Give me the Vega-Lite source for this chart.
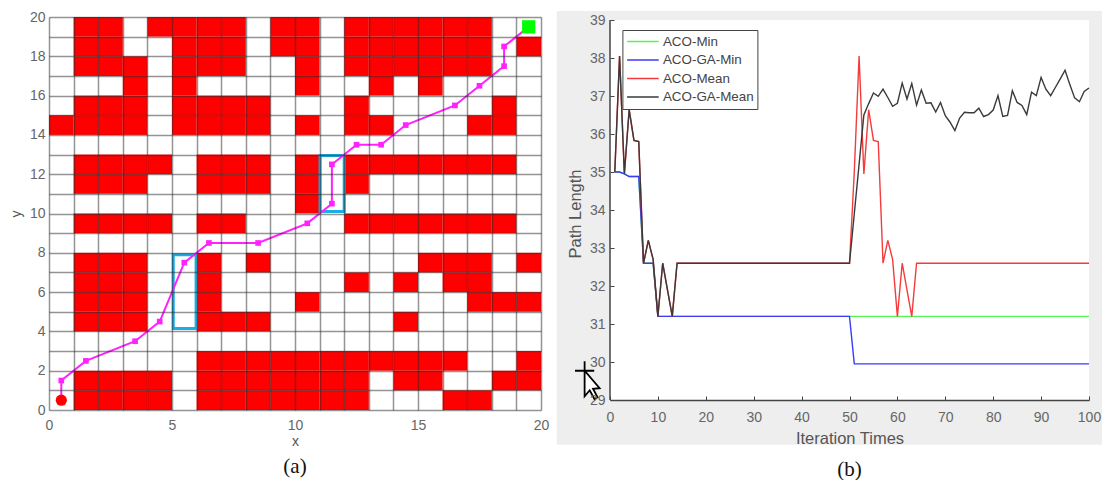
{"$schema":"https://vega.github.io/schema/vega-lite/v6.json","background":"white","padding":{"left":9,"top":10,"right":0,"bottom":0},"spacing":7,"resolve":{"legend":{"color":"independent"}},"config":{"view":{"stroke":null},"font":"Liberation Sans"},
"datasets":{
"cells":[
{"x":1,"x2":2,"y":19,"y2":20},{"x":2,"x2":3,"y":19,"y2":20},{"x":4,"x2":5,"y":19,"y2":20},{"x":5,"x2":6,"y":19,"y2":20},{"x":6,"x2":7,"y":19,"y2":20},{"x":7,"x2":8,"y":19,"y2":20},{"x":9,"x2":10,"y":19,"y2":20},{"x":10,"x2":11,"y":19,"y2":20},{"x":12,"x2":13,"y":19,"y2":20},{"x":13,"x2":14,"y":19,"y2":20},{"x":14,"x2":15,"y":19,"y2":20},{"x":15,"x2":16,"y":19,"y2":20},{"x":16,"x2":17,"y":19,"y2":20},{"x":17,"x2":18,"y":19,"y2":20},
{"x":1,"x2":2,"y":18,"y2":19},{"x":2,"x2":3,"y":18,"y2":19},{"x":5,"x2":6,"y":18,"y2":19},{"x":6,"x2":7,"y":18,"y2":19},{"x":7,"x2":8,"y":18,"y2":19},{"x":9,"x2":10,"y":18,"y2":19},{"x":10,"x2":11,"y":18,"y2":19},{"x":12,"x2":13,"y":18,"y2":19},{"x":13,"x2":14,"y":18,"y2":19},{"x":14,"x2":15,"y":18,"y2":19},{"x":15,"x2":16,"y":18,"y2":19},{"x":16,"x2":17,"y":18,"y2":19},{"x":17,"x2":18,"y":18,"y2":19},{"x":19,"x2":20,"y":18,"y2":19},
{"x":1,"x2":2,"y":17,"y2":18},{"x":2,"x2":3,"y":17,"y2":18},{"x":3,"x2":4,"y":17,"y2":18},{"x":5,"x2":6,"y":17,"y2":18},{"x":6,"x2":7,"y":17,"y2":18},{"x":7,"x2":8,"y":17,"y2":18},{"x":10,"x2":11,"y":17,"y2":18},{"x":12,"x2":13,"y":17,"y2":18},{"x":13,"x2":14,"y":17,"y2":18},{"x":14,"x2":15,"y":17,"y2":18},{"x":15,"x2":16,"y":17,"y2":18},{"x":16,"x2":17,"y":17,"y2":18},{"x":17,"x2":18,"y":17,"y2":18},
{"x":3,"x2":4,"y":16,"y2":17},{"x":5,"x2":6,"y":16,"y2":17},{"x":10,"x2":11,"y":16,"y2":17},{"x":13,"x2":14,"y":16,"y2":17},{"x":15,"x2":16,"y":16,"y2":17},
{"x":1,"x2":2,"y":15,"y2":16},{"x":2,"x2":3,"y":15,"y2":16},{"x":3,"x2":4,"y":15,"y2":16},{"x":5,"x2":6,"y":15,"y2":16},{"x":6,"x2":7,"y":15,"y2":16},{"x":7,"x2":8,"y":15,"y2":16},{"x":8,"x2":9,"y":15,"y2":16},{"x":12,"x2":13,"y":15,"y2":16},{"x":18,"x2":19,"y":15,"y2":16},
{"x":0,"x2":1,"y":14,"y2":15},{"x":1,"x2":2,"y":14,"y2":15},{"x":2,"x2":3,"y":14,"y2":15},{"x":3,"x2":4,"y":14,"y2":15},{"x":5,"x2":6,"y":14,"y2":15},{"x":6,"x2":7,"y":14,"y2":15},{"x":7,"x2":8,"y":14,"y2":15},{"x":8,"x2":9,"y":14,"y2":15},{"x":10,"x2":11,"y":14,"y2":15},{"x":12,"x2":13,"y":14,"y2":15},{"x":13,"x2":14,"y":14,"y2":15},{"x":17,"x2":18,"y":14,"y2":15},{"x":18,"x2":19,"y":14,"y2":15},
{"x":1,"x2":2,"y":12,"y2":13},{"x":2,"x2":3,"y":12,"y2":13},{"x":3,"x2":4,"y":12,"y2":13},{"x":4,"x2":5,"y":12,"y2":13},{"x":6,"x2":7,"y":12,"y2":13},{"x":7,"x2":8,"y":12,"y2":13},{"x":8,"x2":9,"y":12,"y2":13},{"x":10,"x2":11,"y":12,"y2":13},{"x":12,"x2":13,"y":12,"y2":13},{"x":13,"x2":14,"y":12,"y2":13},{"x":14,"x2":15,"y":12,"y2":13},{"x":15,"x2":16,"y":12,"y2":13},{"x":16,"x2":17,"y":12,"y2":13},{"x":17,"x2":18,"y":12,"y2":13},{"x":18,"x2":19,"y":12,"y2":13},
{"x":1,"x2":2,"y":11,"y2":12},{"x":2,"x2":3,"y":11,"y2":12},{"x":3,"x2":4,"y":11,"y2":12},{"x":6,"x2":7,"y":11,"y2":12},{"x":7,"x2":8,"y":11,"y2":12},{"x":8,"x2":9,"y":11,"y2":12},{"x":10,"x2":11,"y":11,"y2":12},{"x":12,"x2":13,"y":11,"y2":12},
{"x":10,"x2":11,"y":10,"y2":11},
{"x":1,"x2":2,"y":9,"y2":10},{"x":2,"x2":3,"y":9,"y2":10},{"x":3,"x2":4,"y":9,"y2":10},{"x":4,"x2":5,"y":9,"y2":10},{"x":6,"x2":7,"y":9,"y2":10},{"x":7,"x2":8,"y":9,"y2":10},{"x":12,"x2":13,"y":9,"y2":10},{"x":13,"x2":14,"y":9,"y2":10},{"x":14,"x2":15,"y":9,"y2":10},{"x":15,"x2":16,"y":9,"y2":10},{"x":16,"x2":17,"y":9,"y2":10},{"x":17,"x2":18,"y":9,"y2":10},{"x":18,"x2":19,"y":9,"y2":10},
{"x":1,"x2":2,"y":7,"y2":8},{"x":2,"x2":3,"y":7,"y2":8},{"x":3,"x2":4,"y":7,"y2":8},{"x":6,"x2":7,"y":7,"y2":8},{"x":8,"x2":9,"y":7,"y2":8},{"x":15,"x2":16,"y":7,"y2":8},{"x":16,"x2":17,"y":7,"y2":8},{"x":17,"x2":18,"y":7,"y2":8},{"x":19,"x2":20,"y":7,"y2":8},
{"x":1,"x2":2,"y":6,"y2":7},{"x":2,"x2":3,"y":6,"y2":7},{"x":3,"x2":4,"y":6,"y2":7},{"x":6,"x2":7,"y":6,"y2":7},{"x":12,"x2":13,"y":6,"y2":7},{"x":14,"x2":15,"y":6,"y2":7},{"x":16,"x2":17,"y":6,"y2":7},{"x":17,"x2":18,"y":6,"y2":7},
{"x":1,"x2":2,"y":5,"y2":6},{"x":2,"x2":3,"y":5,"y2":6},{"x":3,"x2":4,"y":5,"y2":6},{"x":6,"x2":7,"y":5,"y2":6},{"x":10,"x2":11,"y":5,"y2":6},{"x":17,"x2":18,"y":5,"y2":6},{"x":18,"x2":19,"y":5,"y2":6},{"x":19,"x2":20,"y":5,"y2":6},
{"x":1,"x2":2,"y":4,"y2":5},{"x":2,"x2":3,"y":4,"y2":5},{"x":3,"x2":4,"y":4,"y2":5},{"x":6,"x2":7,"y":4,"y2":5},{"x":7,"x2":8,"y":4,"y2":5},{"x":8,"x2":9,"y":4,"y2":5},{"x":14,"x2":15,"y":4,"y2":5},
{"x":6,"x2":7,"y":2,"y2":3},{"x":7,"x2":8,"y":2,"y2":3},{"x":8,"x2":9,"y":2,"y2":3},{"x":9,"x2":10,"y":2,"y2":3},{"x":10,"x2":11,"y":2,"y2":3},{"x":11,"x2":12,"y":2,"y2":3},{"x":12,"x2":13,"y":2,"y2":3},{"x":13,"x2":14,"y":2,"y2":3},{"x":14,"x2":15,"y":2,"y2":3},{"x":15,"x2":16,"y":2,"y2":3},{"x":16,"x2":17,"y":2,"y2":3},{"x":19,"x2":20,"y":2,"y2":3},
{"x":1,"x2":2,"y":1,"y2":2},{"x":2,"x2":3,"y":1,"y2":2},{"x":3,"x2":4,"y":1,"y2":2},{"x":4,"x2":5,"y":1,"y2":2},{"x":6,"x2":7,"y":1,"y2":2},{"x":7,"x2":8,"y":1,"y2":2},{"x":8,"x2":9,"y":1,"y2":2},{"x":9,"x2":10,"y":1,"y2":2},{"x":10,"x2":11,"y":1,"y2":2},{"x":11,"x2":12,"y":1,"y2":2},{"x":12,"x2":13,"y":1,"y2":2},{"x":14,"x2":15,"y":1,"y2":2},{"x":15,"x2":16,"y":1,"y2":2},{"x":18,"x2":19,"y":1,"y2":2},{"x":19,"x2":20,"y":1,"y2":2},
{"x":1,"x2":2,"y":0,"y2":1},{"x":2,"x2":3,"y":0,"y2":1},{"x":3,"x2":4,"y":0,"y2":1},{"x":4,"x2":5,"y":0,"y2":1},{"x":6,"x2":7,"y":0,"y2":1},{"x":7,"x2":8,"y":0,"y2":1},{"x":8,"x2":9,"y":0,"y2":1},{"x":9,"x2":10,"y":0,"y2":1},{"x":10,"x2":11,"y":0,"y2":1},{"x":11,"x2":12,"y":0,"y2":1},{"x":12,"x2":13,"y":0,"y2":1},{"x":16,"x2":17,"y":0,"y2":1},{"x":17,"x2":18,"y":0,"y2":1}
],
"path":[{"i":0,"x":0.5,"y":0.5},{"i":1,"x":0.5,"y":1.5},{"i":2,"x":1.5,"y":2.5},{"i":3,"x":3.5,"y":3.5},{"i":4,"x":4.5,"y":4.5},{"i":5,"x":5.5,"y":7.5},{"i":6,"x":6.5,"y":8.5},{"i":7,"x":8.5,"y":8.5},{"i":8,"x":10.5,"y":9.5},{"i":9,"x":11.5,"y":10.5},{"i":10,"x":11.5,"y":12.5},{"i":11,"x":12.5,"y":13.5},{"i":12,"x":13.5,"y":13.5},{"i":13,"x":14.5,"y":14.5},{"i":14,"x":16.5,"y":15.5},{"i":15,"x":17.5,"y":16.5},{"i":16,"x":18.5,"y":17.5},{"i":17,"x":18.5,"y":18.5},{"i":18,"x":19.5,"y":19.5}],
"boxes":[{"x":5.05,"x2":5.98,"y":4.15,"y2":7.9},{"x":11.02,"x2":12,"y":10.1,"y2":12.95}],
"curves":[
{"s":"ACO-Min","t":1,"v":35},{"s":"ACO-Min","t":2,"v":35},{"s":"ACO-Min","t":3,"v":34.95},{"s":"ACO-Min","t":4,"v":34.88},{"s":"ACO-Min","t":6,"v":34.88},{"s":"ACO-Min","t":7,"v":32.6},{"s":"ACO-Min","t":9,"v":32.6},{"s":"ACO-Min","t":10,"v":31.2},{"s":"ACO-Min","t":50,"v":31.2},{"s":"ACO-Min","t":100,"v":31.2},
{"s":"ACO-GA-Min","t":1,"v":35},{"s":"ACO-GA-Min","t":2,"v":35},{"s":"ACO-GA-Min","t":3,"v":34.95},{"s":"ACO-GA-Min","t":4,"v":34.88},{"s":"ACO-GA-Min","t":6,"v":34.88},{"s":"ACO-GA-Min","t":7,"v":32.6},{"s":"ACO-GA-Min","t":9,"v":32.6},{"s":"ACO-GA-Min","t":10,"v":31.2},{"s":"ACO-GA-Min","t":50,"v":31.2},{"s":"ACO-GA-Min","t":51,"v":29.95},{"s":"ACO-GA-Min","t":100,"v":29.95},
{"s":"ACO-Mean","t":1,"v":35},{"s":"ACO-Mean","t":2,"v":38.05},{"s":"ACO-Mean","t":3,"v":34.95},{"s":"ACO-Mean","t":4,"v":36.64},{"s":"ACO-Mean","t":5,"v":35.83},{"s":"ACO-Mean","t":6,"v":35.8},{"s":"ACO-Mean","t":7,"v":32.6},{"s":"ACO-Mean","t":8,"v":33.2},{"s":"ACO-Mean","t":9,"v":32.7},{"s":"ACO-Mean","t":10,"v":31.2},{"s":"ACO-Mean","t":11,"v":32.6},{"s":"ACO-Mean","t":12,"v":31.9},{"s":"ACO-Mean","t":13,"v":31.2},{"s":"ACO-Mean","t":14,"v":32.6},{"s":"ACO-Mean","t":50,"v":32.6},{"s":"ACO-Mean","t":51,"v":35},{"s":"ACO-Mean","t":52,"v":38.05},{"s":"ACO-Mean","t":53,"v":34.95},{"s":"ACO-Mean","t":54,"v":36.64},{"s":"ACO-Mean","t":55,"v":35.83},{"s":"ACO-Mean","t":56,"v":35.8},{"s":"ACO-Mean","t":57,"v":32.6},{"s":"ACO-Mean","t":58,"v":33.2},{"s":"ACO-Mean","t":59,"v":32.7},{"s":"ACO-Mean","t":60,"v":31.2},{"s":"ACO-Mean","t":61,"v":32.6},{"s":"ACO-Mean","t":62,"v":31.9},{"s":"ACO-Mean","t":63,"v":31.2},{"s":"ACO-Mean","t":64,"v":32.6},{"s":"ACO-Mean","t":100,"v":32.6},
{"s":"ACO-GA-Mean","t":1,"v":35},{"s":"ACO-GA-Mean","t":2,"v":38.05},{"s":"ACO-GA-Mean","t":3,"v":34.95},{"s":"ACO-GA-Mean","t":4,"v":36.64},{"s":"ACO-GA-Mean","t":5,"v":35.83},{"s":"ACO-GA-Mean","t":6,"v":35.8},{"s":"ACO-GA-Mean","t":7,"v":32.6},{"s":"ACO-GA-Mean","t":8,"v":33.2},{"s":"ACO-GA-Mean","t":9,"v":32.7},{"s":"ACO-GA-Mean","t":10,"v":31.2},{"s":"ACO-GA-Mean","t":11,"v":32.6},{"s":"ACO-GA-Mean","t":12,"v":31.9},{"s":"ACO-GA-Mean","t":13,"v":31.2},{"s":"ACO-GA-Mean","t":14,"v":32.6},{"s":"ACO-GA-Mean","t":50,"v":32.6},{"s":"ACO-GA-Mean","t":51,"v":33.9},{"s":"ACO-GA-Mean","t":52,"v":35.2},{"s":"ACO-GA-Mean","t":53,"v":36.5},{"s":"ACO-GA-Mean","t":54,"v":36.8},{"s":"ACO-GA-Mean","t":55,"v":37.08},{"s":"ACO-GA-Mean","t":56,"v":36.99},{"s":"ACO-GA-Mean","t":57,"v":37.18},{"s":"ACO-GA-Mean","t":58,"v":36.96},{"s":"ACO-GA-Mean","t":59,"v":36.73},{"s":"ACO-GA-Mean","t":60,"v":36.81},{"s":"ACO-GA-Mean","t":61,"v":37.34},{"s":"ACO-GA-Mean","t":62,"v":36.92},{"s":"ACO-GA-Mean","t":63,"v":37.33},{"s":"ACO-GA-Mean","t":64,"v":36.76},{"s":"ACO-GA-Mean","t":65,"v":37.16},{"s":"ACO-GA-Mean","t":66,"v":36.81},{"s":"ACO-GA-Mean","t":67,"v":36.82},{"s":"ACO-GA-Mean","t":68,"v":36.58},{"s":"ACO-GA-Mean","t":69,"v":36.83},{"s":"ACO-GA-Mean","t":70,"v":36.48},{"s":"ACO-GA-Mean","t":71,"v":36.31},{"s":"ACO-GA-Mean","t":72,"v":36.09},{"s":"ACO-GA-Mean","t":73,"v":36.42},{"s":"ACO-GA-Mean","t":74,"v":36.57},{"s":"ACO-GA-Mean","t":75,"v":36.56},{"s":"ACO-GA-Mean","t":76,"v":36.56},{"s":"ACO-GA-Mean","t":77,"v":36.68},{"s":"ACO-GA-Mean","t":78,"v":36.46},{"s":"ACO-GA-Mean","t":79,"v":36.51},{"s":"ACO-GA-Mean","t":80,"v":36.63},{"s":"ACO-GA-Mean","t":81,"v":37.01},{"s":"ACO-GA-Mean","t":82,"v":36.46},{"s":"ACO-GA-Mean","t":83,"v":36.49},{"s":"ACO-GA-Mean","t":84,"v":37.14},{"s":"ACO-GA-Mean","t":85,"v":36.83},{"s":"ACO-GA-Mean","t":86,"v":36.75},{"s":"ACO-GA-Mean","t":87,"v":36.51},{"s":"ACO-GA-Mean","t":88,"v":37.1},{"s":"ACO-GA-Mean","t":89,"v":37.01},{"s":"ACO-GA-Mean","t":90,"v":37.49},{"s":"ACO-GA-Mean","t":91,"v":37.18},{"s":"ACO-GA-Mean","t":92,"v":37.01},{"s":"ACO-GA-Mean","t":93,"v":37.23},{"s":"ACO-GA-Mean","t":94,"v":37.45},{"s":"ACO-GA-Mean","t":95,"v":37.68},{"s":"ACO-GA-Mean","t":96,"v":37.3},{"s":"ACO-GA-Mean","t":97,"v":36.95},{"s":"ACO-GA-Mean","t":98,"v":36.85},{"s":"ACO-GA-Mean","t":99,"v":37.12},{"s":"ACO-GA-Mean","t":100,"v":37.21}
]},
"hconcat":[
{"width":492,"height":393,"title":{"text":"(a)","orient":"bottom","font":"Liberation Serif","fontSize":21,"fontWeight":"normal","color":"#111","offset":8},
"layer":[
{"data":{"name":"cells"},"mark":{"type":"rect","fill":"#ff0000"},
"encoding":{"x":{"field":"x","type":"quantitative","scale":{"domain":[0,20],"nice":false},
"axis":{"title":"x","tickCount":21,"labelFlush":false,"values":[0,1,2,3,4,5,6,7,8,9,10,11,12,13,14,15,16,17,18,19,20],"labelExpr":"datum.value % 5 === 0 ? datum.label : ''","grid":true,"gridColor":"#2a2a2a","gridOpacity":0.5,"gridWidth":1.5,"ticks":false,"domain":false,"zindex":1,"labelColor":"#666","labelFontSize":14,"labelPadding":8,"titleColor":"#555","titleFontSize":14,"titleFontWeight":"normal","titlePadding":2,"labelOverlap":false}},
"x2":{"field":"x2"},
"y":{"field":"y","type":"quantitative","scale":{"domain":[0,20],"nice":false},
"axis":{"title":"y","tickCount":21,"values":[0,1,2,3,4,5,6,7,8,9,10,11,12,13,14,15,16,17,18,19,20],"labelExpr":"datum.value % 2 === 0 ? datum.label : ''","grid":true,"gridColor":"#2a2a2a","gridOpacity":0.5,"gridWidth":1.5,"ticks":false,"domain":false,"zindex":1,"labelColor":"#666","labelFontSize":14,"labelPadding":4,"titleColor":"#555","titleFontSize":14,"titleFontWeight":"normal","titlePadding":6,"labelOverlap":false}},
"y2":{"field":"y2"}}},
{"data":{"name":"boxes"},"mark":{"type":"rect","fillOpacity":0,"stroke":"#18aee6","strokeWidth":3},"encoding":{"x":{"field":"x","type":"quantitative"},"x2":{"field":"x2"},"y":{"field":"y","type":"quantitative"},"y2":{"field":"y2"}}},
{"data":{"name":"path"},"mark":{"type":"line","color":"#ff22ff","strokeWidth":2,"point":{"shape":"square","size":32,"filled":true,"color":"#ff22ff"}},"encoding":{"x":{"field":"x","type":"quantitative"},"y":{"field":"y","type":"quantitative"},"order":{"field":"i"}}},
{"data":{"values":[{"x":0.5,"y":0.5}]},"mark":{"type":"point","shape":"circle","filled":true,"color":"#ff0000","size":125,"opacity":1},"encoding":{"x":{"field":"x","type":"quantitative"},"y":{"field":"y","type":"quantitative"}}},
{"data":{"values":[{"x":19.5,"y":19.5}]},"mark":{"type":"point","shape":"square","filled":true,"color":"#00ff00","size":175,"opacity":1},"encoding":{"x":{"field":"x","type":"quantitative"},"y":{"field":"y","type":"quantitative"}}}
]},
{"width":479,"height":393,"title":{"text":"(b)","orient":"bottom","font":"Liberation Serif","fontSize":21,"fontWeight":"normal","color":"#111","offset":12},
"layer":[
{"data":{"values":[{"a":-11.1,"b":102.7,"c":27.82,"d":39.24}]},"mark":{"type":"rect","fill":"#eeeeee"},"encoding":{"x":{"field":"a","type":"quantitative","scale":{"domain":[0,100],"nice":false},
"axis":{"title":"Iteration Times","tickCount":11,"labelFlush":false,"values":[0,10,20,30,40,50,60,70,80,90,100],"offset":-10,"zindex":1,"grid":false,"tickSize":-4,"tickColor":"#444","domainColor":"#444","domainWidth":1.5,"labelPadding":14,"labelColor":"#666","labelFontSize":14,"titleColor":"#555","titleFontSize":16.5,"titleFontWeight":"normal","titlePadding":6}},"x2":{"field":"b"},
"y":{"field":"c","type":"quantitative","scale":{"domain":[28.737,39.079],"nice":false},
"axis":{"title":"Path Length","tickCount":11,"values":[29,30,31,32,33,34,35,36,37,38,39],"zindex":1,"grid":false,"domain":false,"tickSize":-4,"tickColor":"#444","labelPadding":9,"labelColor":"#666","labelFontSize":14,"titleColor":"#555","titleFontSize":16.5,"titleFontWeight":"normal","titlePadding":6}},"y2":{"field":"d"}}},
{"data":{"values":[{"a":0,"b":100,"c":29,"d":39}]},"mark":{"type":"rect","fill":"white"},"encoding":{"x":{"field":"a","type":"quantitative"},"x2":{"field":"b"},"y":{"field":"c","type":"quantitative"},"y2":{"field":"d"}}},
{"data":{"values":[{"a":0,"c":29,"d":39}]},"mark":{"type":"rule","color":"#444","strokeWidth":1.5},"encoding":{"x":{"field":"a","type":"quantitative"},"y":{"field":"c","type":"quantitative"},"y2":{"field":"d"}}},
{"data":{"name":"curves"},"mark":{"type":"line","strokeWidth":1.4},"encoding":{"x":{"field":"t","type":"quantitative"},"y":{"field":"v","type":"quantitative"},
"color":{"field":"s","type":"nominal","scale":{"domain":["ACO-Min","ACO-GA-Min","ACO-Mean","ACO-GA-Mean"],"range":["#55f555","#3b3bf5","#f53b3b","#3a3a3a"]},
"legend":{"orient":"none","legendX":12.4,"legendY":13,"title":null,"fillColor":"white","strokeColor":"#444","symbolType":"stroke","symbolSize":1000,"symbolStrokeWidth":1.5,"labelFontSize":13.4,"labelColor":"#444","rowPadding":2.5,"clipHeight":16,"padding":3.5,"labelOffset":3}}}},
{"data":{"values":[{"a":-5.3,"c":29.77}]},"mark":{"type":"point","shape":"M0,0 L0,0.85 L0.17,0.65 L0.33,0.95 L0.43,0.88 L0.28,0.6 L0.5,0.58 Z M-0.32,0 L0.32,0 M0,-0.32 L0,0.32","filled":true,"fill":"white","stroke":"black","strokeWidth":1.8,"size":3600,"opacity":1},"encoding":{"x":{"field":"a","type":"quantitative"},"y":{"field":"c","type":"quantitative"}}}
]}
]}
